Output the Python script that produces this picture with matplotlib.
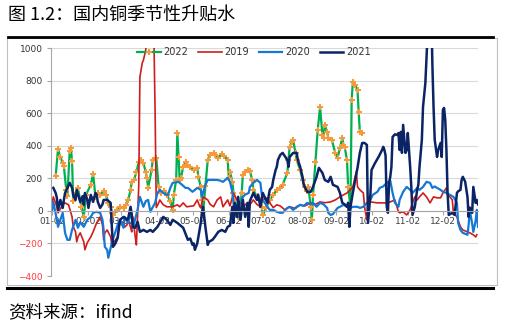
"""
Seasonal copper premium chart (国内铜季节性升贴水), one line per year.
"""

import matplotlib
matplotlib.use("Agg")
import matplotlib.pyplot as plt
from matplotlib.lines import Line2D
from matplotlib.patches import Rectangle
import pandas as pd

# ---------------------------------------------------------------------------
# Data (day of year, Jan 1 = 0)
# ---------------------------------------------------------------------------
days_2022 = [4, 6, 8, 10, 11, 13, 14, 16, 17, 18, 19, 21, 23, 26, 28, 30, 34, 36, 38, 40,
             42, 45, 47, 49, 51, 52, 53, 56, 59, 62, 64, 66, 68, 69, 71, 73, 75, 77, 79, 81,
             82, 83, 86, 87, 90, 92, 94, 97, 99, 102, 104, 105, 107, 108, 109, 110, 111, 113, 115, 116,
             119, 122, 125, 126, 128, 129, 130, 132, 134, 136, 139, 140, 143, 146, 148, 151, 152, 153, 155, 156,
             157, 159, 160, 162, 163, 164, 166, 168, 170, 172, 173, 176, 179, 180, 181, 184, 187, 190, 193, 196,
             198, 202, 203, 204, 206, 207, 209, 210, 213, 215, 217, 219, 220, 222, 223, 224, 226, 228, 230, 232,
             233, 234, 236, 237, 240, 243, 245, 247, 249, 250, 251, 253, 254, 256, 257, 258, 260, 262, 263, 264,
             266]
vals_2022 = [215, 380, 330, 295, 275, 130, 90, 370, 385, 305, 60, 110, 140, 25, -37, 100, 160, 227, 86, 110,
             95, 123, 98, 49, 25, -12, -25, 6, 25, 18, 37, 67, 129, 178, 190, 239, 300, 313, 294, 239,
             202, 141, 251, 313, 325, 147, 110, 120, 98, 60, 6, 100, 190, 479, 331, 190, 200, 270, 300, 282,
             270, 251, 264, 209, 147, 67, -10, 150, 313, 344, 356, 340, 325, 350, 335, 313, 202, 239, 180, 110,
             67, 6, -37, 30, 110, 221, 239, 251, 245, 190, 129, 86, 67, 25, -25, 20, 67, 98, 129, 141,
             160, 233, 313, 393, 423, 436, 356, 313, 251, 190, 147, 120, 147, 25, -55, 100, 300, 497, 638, 466,
             448, 528, 485, 448, 436, 356, 325, 386, 448, 405, 393, 313, 147, 25, 681, 791, 773, 742, 607, 485,
             478]

days_2019 = [1, 2, 5, 6, 10, 12, 15, 18, 19, 21, 22, 23, 25, 28, 29, 31, 34, 36, 39, 42,
             44, 45, 46, 48, 51, 52, 55, 57, 58, 59, 62, 63, 65, 66, 68, 69, 70, 72, 73, 75,
             76, 78, 79, 81, 82, 85, 87, 88, 89, 90, 92, 93, 96, 99, 104, 108, 110, 113, 116, 122,
             125, 127, 128, 130, 134, 136, 139, 142, 145, 147, 151, 153, 156, 159, 162, 164, 168, 170, 173, 176,
             179, 181, 185, 187, 190, 193, 196, 200, 204, 209, 213, 217, 222, 226, 230, 234, 239, 243, 247, 250,
             253, 256, 258, 261, 262, 264, 267, 268, 270, 271, 273, 279, 284, 287, 290, 294, 297, 298, 301, 304,
             307, 309, 311, 313, 315, 318, 321, 324, 327, 330, 333, 335, 338, 339, 341, 343, 344, 347, 350, 352,
             356, 358, 361, 363, 364]
vals_2019 = [49, 86, 25, -12, 37, 49, 37, -37, -98, -129, -190, -160, -135, -190, -239, -196, -160, -129, -74, -37,
             -86, -178, -135, -117, -160, -209, -180, -160, -104, -74, -67, -100, -86, -55, -100, -129, -37, -160, -209, 150,
             822, 908, 926, 988, 1150, 1200, 1150, 1050, 600, 20, 49, 67, 37, 25, 25, 37, 25, 49, 25, 31,
             67, 30, 18, 86, 67, 40, 25, 67, 86, 25, 67, 30, 110, 67, 49, 25, 50, 37, 67, 40,
             25, 67, 80, 49, 20, 37, 30, 6, 25, 15, 37, 30, 49, 40, 55, 50, 55, 67, 86, 98,
             110, 129, 147, 239, 147, 129, 110, 25, -55, 67, 55, 49, 49, 49, 55, 67, -6, -12, -6, -25,
             6, 49, 86, 67, 86, 110, 86, 49, 86, 80, 80, 110, 141, 98, 86, 67, -12, -37, -98, -117,
             -129, -135, -147, -160, -147]

days_2020 = [1, 2, 5, 6, 10, 12, 14, 16, 18, 21, 23, 25, 28, 31, 34, 36, 39, 42, 44, 45,
             46, 48, 49, 51, 52, 55, 57, 59, 62, 63, 66, 68, 69, 70, 72, 74, 75, 76, 79, 81,
             83, 85, 86, 89, 91, 93, 96, 98, 100, 102, 104, 109, 112, 115, 117, 121, 125, 128, 129, 132,
             134, 138, 142, 145, 147, 151, 153, 155, 156, 157, 159, 162, 163, 164, 166, 169, 170, 173, 176, 179,
             180, 181, 185, 187, 190, 193, 196, 198, 202, 204, 207, 210, 213, 216, 219, 222, 224, 227, 230, 233,
             236, 237, 239, 241, 245, 247, 250, 253, 256, 258, 262, 264, 267, 270, 273, 275, 279, 281, 284, 287,
             290, 292, 294, 297, 298, 301, 304, 307, 309, 313, 315, 318, 321, 324, 326, 328, 330, 333, 335, 338,
             341, 344, 347, 348, 350, 352, 356, 357, 358, 360, 361, 363, 364, 365]
vals_2020 = [6, 55, -55, -98, -12, -135, -178, -178, -117, -55, -104, -70, -98, -55, -37, -12, -6, -12, -55, -117,
             -221, -239, -288, -227, -196, -129, -86, -55, -104, -37, -74, -12, -40, -104, -50, 6, 49, 86, 25, 60,
             67, -6, 10, 49, 110, 129, 110, 100, 98, 141, 172, 178, 160, 141, 141, 117, 141, 130, 86, 160,
             190, 190, 190, 185, 178, 202, 178, 117, 49, -12, -37, -37, 49, 86, 100, 110, 147, 172, 190, 172,
             110, 67, 25, 6, 6, -6, -12, -12, 18, 25, 6, 25, 37, 30, 49, 40, 49, 25, 49, 40,
             18, -12, -25, -20, 18, 25, 37, 25, 18, 25, 25, 18, 25, 49, 67, 98, 117, 141, 150, 172,
             185, 110, 49, 25, 67, 117, 147, 129, 110, 140, 129, 147, 178, 172, 141, 150, 141, 129, 117, 110,
             98, 86, 49, -74, -117, -135, -147, -86, 6, -80, -129, -60, 6, -98]

days_2021 = [2, 4, 5, 6, 8, 10, 11, 12, 14, 16, 18, 19, 21, 22, 25, 27, 28, 29, 31, 32,
             34, 36, 38, 39, 40, 42, 44, 45, 48, 51, 52, 53, 55, 57, 58, 59, 62, 65, 66, 68,
             69, 70, 72, 74, 76, 79, 82, 85, 87, 91, 93, 96, 99, 102, 104, 108, 110, 113, 116, 117,
             119, 121, 122, 123, 125, 126, 128, 129, 130, 132, 134, 135, 138, 140, 143, 146, 149, 151, 153, 155,
             156, 157, 159, 160, 162, 163, 164, 166, 168, 169, 170, 173, 176, 177, 179, 181, 185, 187, 189, 190,
             192, 193, 194, 196, 198, 202, 203, 204, 207, 210, 211, 213, 215, 216, 219, 222, 224, 227, 229, 232,
             234, 237, 239, 241, 245, 247, 249, 251, 253, 254, 255, 256, 258, 260, 262, 264, 266, 268, 270, 271,
             273, 274, 277, 280, 283, 284, 285, 286, 287, 288, 289, 290, 291, 292, 294, 296, 297, 298, 299, 300,
             301, 303, 304, 305, 307, 308, 309, 311, 313, 314, 315, 317, 318, 320, 321, 322, 323, 325, 326, 327,
             328, 330, 331, 333, 334, 335, 336, 337, 338, 339, 340, 343, 345, 347, 348, 350, 351, 352, 354, 356,
             357, 358, 360, 361, 363, 364, 365]
vals_2021 = [141, 110, 80, 6, 67, 18, 67, 110, 141, 172, 141, 98, 67, 129, 55, 90, 37, 110, 70, 18,
             98, 55, 110, 100, 55, 18, 40, 67, 67, 49, -98, -221, -200, -166, -104, -55, -37, -55, -45, 25,
             -20, -98, -104, -67, -129, -117, -129, -117, -129, -98, -74, -37, -55, -86, -55, -74, -86, -104, -160, -178,
             -170, -209, -200, -239, -200, -160, -74, -12, 25, -100, -209, -190, -178, -160, -129, -117, -129, -98, -90, 25,
             -74, 49, -37, 86, -55, 6, 67, -37, 49, -98, 60, 110, 67, 100, 25, 110, 49, 129, 147, 190,
             251, 270, 313, 344, 356, 313, 270, 331, 356, 356, 313, 270, 209, 160, 117, 117, 147, 209, 264, 233,
             190, 178, 209, 160, 147, 110, 49, 40, 25, 50, -98, 25, 110, 190, 264, 356, 417, 417, 405, -74,
             100, 251, 294, 331, 374, 393, 374, 340, 25, -12, 172, 209, 270, 454, 470, 466, 478, 374, 485, 356,
             528, 356, 374, 478, 270, 147, -25, 25, 129, 160, 270, 436, 638, 785, 945, 1100, 1300, 1250, 900, 638,
             436, 331, 374, 417, 331, 620, 632, 558, 374, 110, -25, -12, -25, 110, 120, 129, 190, 209, 180, 86,
             -37, 20, -12, 147, 49, 67, 40]

# month ticks on the 2nd of each month
tick_dates = pd.date_range("2021-01-02", periods=12, freq="MS") + pd.Timedelta(days=1)
tick_days = list(tick_dates.dayofyear - 1)
tick_labels = list(tick_dates.strftime("%m-%d"))
y_ticks = [-400, -200, 0, 200, 400, 600, 800, 1000]

CJK = ["Noto Sans CJK SC", "DejaVu Sans"]
W, H = 506, 324

# ---------------------------------------------------------------------------
# Figure
# ---------------------------------------------------------------------------
fig = plt.figure(figsize=(W / 100, H / 100), dpi=100, facecolor="white")
ax = fig.add_axes([51 / W, 1 - 276 / H, 427 / W, 228 / H])

l22, = ax.plot(days_2022, vals_2022, color="#00B050", lw=1.6, marker="P",
               markersize=4.3, markerfacecolor="#F79A3B", markeredgewidth=0, label="2022")
l19, = ax.plot(days_2019, vals_2019, color="#D01C1C", lw=1.2, label="2019")
l20, = ax.plot(days_2020, vals_2020, color="#1478D4", lw=1.6, label="2020")
l21, = ax.plot(days_2021, vals_2021, color="#0A2466", lw=1.8, label="2021")

ax.set_xlim(0, 365)
ax.set_ylim(-400, 1000)
ax.set_yticks(y_ticks)
ax.set_xticks(tick_days)
ax.set_xticklabels(tick_labels)

ax.yaxis.grid(True, color="#D9D9D9", lw=0.8)
ax.set_axisbelow(True)
for side in ("top", "right"):
    ax.spines[side].set_visible(False)
ax.spines["left"].set_color("#A6A6A6")
ax.spines["left"].set_linewidth(0.8)
ax.spines["bottom"].set_position(("data", 0))
ax.spines["bottom"].set_color("#A6A6A6")
ax.spines["bottom"].set_linewidth(0.8)

ax.tick_params(axis="y", direction="out", length=3, width=0.8, color="#A6A6A6",
               labelsize=6.5, pad=3)
ax.tick_params(axis="x", direction="out", length=3, width=0.8, color="#A6A6A6",
               labelsize=6.5, labelcolor="#404040", pad=1.5)
for val, lab in zip(y_ticks, ax.get_yticklabels()):
    lab.set_color("#FF3B3B" if val < 0 else "#333333")

fig.legend(handles=[l22, l19, l20, l21], loc="center",
           bbox_to_anchor=(254 / W, 1 - 52 / H), ncol=4, frameon=False,
           fontsize=7, handlelength=2.4, handletextpad=0.3, columnspacing=1.0,
           labelcolor="#333333")

# frame, rules and captions
fig.add_artist(Rectangle((7 / W, 1 - 285 / H), 490 / W, 247 / H, transform=fig.transFigure,
                         fill=False, edgecolor="#BFBFBF", lw=0.8))
fig.add_artist(Line2D([8 / W, 493 / W], [1 - 36.5 / H] * 2, color="black", lw=2))
fig.add_artist(Line2D([7 / W, 493 / W], [1 - 287.5 / H] * 2, color="black", lw=2.2))

fig.text(8 / W, 1 - 15 / H, "图 1.2：国内铜季节性升贴水", family=CJK, fontsize=13,
         va="center", ha="left", color="black")
fig.text(8 / W, 1 - 312 / H, "资料来源：ifind", family=CJK, fontsize=12.6,
         va="center", ha="left", color="black")

fig.savefig("out.png", dpi=100, facecolor="white")
